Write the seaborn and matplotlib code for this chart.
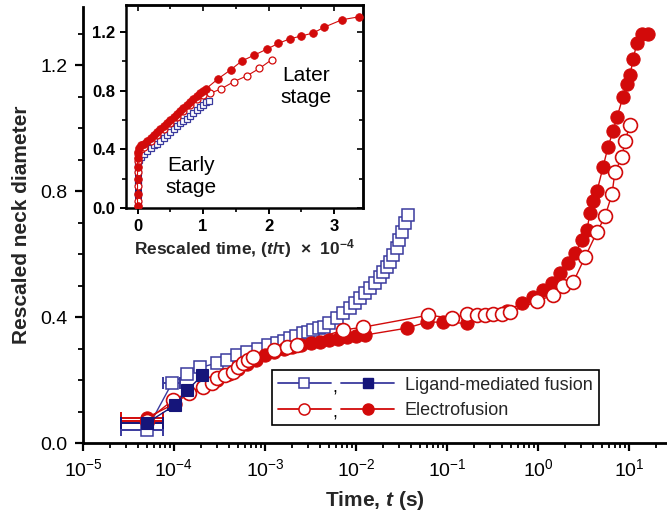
import numpy as np
import pandas as pd
import seaborn as sns
import matplotlib
matplotlib.use("Agg")
import matplotlib.pyplot as plt
from matplotlib.lines import Line2D
from matplotlib.text import Text
from matplotlib.legend_handler import HandlerTuple
from matplotlib.ticker import LogLocator, MultipleLocator, FixedLocator, NullFormatter

# ---------------- data: neck growth vs. time ----------------
# Ligand-mediated fusion, open squares (time in s, rescaled neck diameter)
lig_open_t = [5.0e-5, 9.5e-5, 1.4e-4, 1.95e-4, 2.95e-4, 3.8e-4, 4.9e-4, 6.3e-4,
              8.3e-4, 1.07e-3, 1.35e-3, 1.6e-3, 1.86e-3, 2.2e-3, 2.6e-3, 3.0e-3,
              3.4e-3, 3.9e-3, 4.4e-3, 5.1e-3, 6.2e-3, 7.2e-3, 8.5e-3, 9.8e-3,
              1.1e-2, 1.26e-2, 1.41e-2, 1.62e-2, 1.82e-2, 2.0e-2, 2.19e-2, 2.34e-2,
              2.57e-2, 2.82e-2, 3.0e-2, 3.24e-2, 3.47e-2, 3.72e-2]
lig_open_d = [0.041, 0.19, 0.22, 0.24, 0.254, 0.265, 0.28, 0.29,
              0.30, 0.31, 0.317, 0.325, 0.333, 0.34, 0.349, 0.354,
              0.359, 0.364, 0.368, 0.38, 0.397, 0.413, 0.43, 0.444,
              0.46, 0.476, 0.492, 0.508, 0.527, 0.543, 0.56, 0.575,
              0.597, 0.62, 0.644, 0.67, 0.698, 0.724]

# Ligand-mediated fusion, filled squares
lig_fill_t = [5.0e-5, 1.02e-4, 1.4e-4, 2.05e-4]
lig_fill_d = [0.063, 0.12, 0.168, 0.215]

# Electrofusion, open circles
ele_open_t = [5.0e-5, 9.8e-5, 1.45e-4, 2.1e-4, 2.6e-4, 3.0e-4, 3.6e-4, 4.4e-4,
              5.0e-4, 5.75e-4, 6.45e-4, 7.4e-4, 1.25e-3, 1.74e-3, 2.24e-3,
              7.2e-3, 1.2e-2, 6.2e-2, 0.114, 0.166, 0.214, 0.262, 0.32, 0.40,
              0.49, 0.975, 1.46, 1.88, 2.43, 3.28, 4.45, 5.45, 6.5, 7.0, 8.4,
              9.0, 10.3]
ele_open_d = [0.07, 0.137, 0.16, 0.178, 0.19, 0.205, 0.215, 0.225,
              0.24, 0.253, 0.263, 0.273, 0.295, 0.305, 0.311,
              0.359, 0.368, 0.406, 0.397, 0.41, 0.406, 0.406, 0.41, 0.41,
              0.416, 0.45, 0.47, 0.50, 0.51, 0.59, 0.67, 0.72, 0.79, 0.86, 0.91,
              0.96, 1.01]

# Electrofusion, filled circles
ele_fill_t = [5.0e-5, 1.02e-4, 1.45e-4, 3.0e-4, 4.0e-4, 5.0e-4, 6.3e-4, 8.0e-4,
              1.0e-3, 1.26e-3, 1.6e-3, 2.0e-3, 2.5e-3, 3.2e-3, 4.0e-3, 5.0e-3,
              6.3e-3, 8.0e-3, 1.0e-2, 1.26e-2, 3.63e-2, 6.0e-2, 9.0e-2, 0.166,
              0.456, 0.667, 0.88, 1.135, 1.43, 1.75, 2.14, 2.55, 3.05, 3.45,
              3.72, 4.02, 4.45, 5.18, 5.87, 6.67, 7.38, 8.6, 9.5, 10.3, 11.1,
              12.2, 13.9, 16.2]
ele_fill_d = [0.08, 0.125, 0.158, 0.20, 0.22, 0.235, 0.25, 0.265,
              0.28, 0.29, 0.30, 0.305, 0.31, 0.318, 0.322, 0.327,
              0.332, 0.336, 0.34, 0.343, 0.365, 0.384, 0.384, 0.38,
              0.42, 0.444, 0.463, 0.486, 0.508, 0.54, 0.571, 0.603, 0.644, 0.676,
              0.73, 0.77, 0.80, 0.876, 0.94, 0.99, 1.035, 1.10, 1.14, 1.17, 1.22,
              1.27, 1.30, 1.30]

# Horizontal time uncertainty on the earliest frames: (t, d, t_low, t_high)
lig_open_err = [(5.0e-5, 0.041, 2.6e-5, 7.6e-5), (9.5e-5, 0.19, 7.6e-5, 1.17e-4)]
lig_fill_err = [(5.0e-5, 0.063, 2.6e-5, 7.6e-5), (1.02e-4, 0.12, 8.5e-5, 1.2e-4)]
ele_open_err = [(5.0e-5, 0.07, 2.6e-5, 7.6e-5)]
ele_fill_err = [(5.0e-5, 0.08, 2.6e-5, 7.6e-5)]

# Inset: rescaled time (t/tau) x 1e-4
in_lig_open_x = [0.0, 0.0, 0.0, 0.0, 0.0, 0.02, 0.05, 0.10, 0.15, 0.20, 0.25, 0.30,
                 0.35, 0.40, 0.45, 0.50, 0.55, 0.60, 0.65, 0.70, 0.75, 0.80, 0.85,
                 0.90, 0.95, 1.00, 1.05, 1.09]
in_lig_open_d = [0.03, 0.10, 0.18, 0.25, 0.30, 0.33, 0.35, 0.37, 0.39, 0.41, 0.43, 0.44,
                 0.46, 0.48, 0.50, 0.52, 0.54, 0.56, 0.58, 0.59, 0.61, 0.63, 0.65,
                 0.67, 0.69, 0.70, 0.72, 0.73]
in_lig_fill_x = [0.0, 0.0, 0.0, 0.0, 0.0, 0.0, 0.0]
in_lig_fill_d = [0.0, 0.04, 0.08, 0.12, 0.16, 0.20, 0.24]

in_ele_open_x = [0.0, 0.0, 0.0, 0.0, 0.0, 0.05, 0.10, 0.20, 0.30, 0.40, 0.50, 0.60,
                 0.70, 0.80, 0.90, 1.00, 1.10, 1.27, 1.47, 1.67, 1.86, 2.05]
in_ele_open_d = [0.05, 0.15, 0.25, 0.32, 0.37, 0.40, 0.42, 0.46, 0.50, 0.54, 0.58, 0.62,
                 0.66, 0.70, 0.74, 0.77, 0.78, 0.81, 0.86, 0.90, 0.95, 1.01]
in_ele_fill_x = [0.0, 0.0, 0.0, 0.0, 0.0, 0.0, 0.02, 0.06, 0.10, 0.15, 0.20, 0.25,
                 0.30, 0.35, 0.40, 0.45, 0.50, 0.55, 0.60, 0.65, 0.70, 0.75, 0.80,
                 0.85, 0.90, 0.95, 1.00, 1.04, 1.23, 1.42, 1.59, 1.78, 1.97, 2.15,
                 2.32, 2.50, 2.68, 2.85, 3.12, 3.38]
in_ele_fill_d = [0.02, 0.10, 0.20, 0.28, 0.34, 0.38, 0.41, 0.43, 0.44, 0.46, 0.48, 0.50,
                 0.52, 0.54, 0.56, 0.58, 0.60, 0.62, 0.64, 0.66, 0.68, 0.70, 0.72,
                 0.74, 0.76, 0.78, 0.80, 0.81, 0.88, 0.94, 1.00, 1.04, 1.08, 1.12,
                 1.15, 1.17, 1.19, 1.23, 1.28, 1.30]

main_xticks = [1e-5, 1e-4, 1e-3, 1e-2, 1e-1, 1e0, 1e1]
main_xticklabels = [r"10$^{-5}$", r"10$^{-4}$", r"10$^{-3}$", r"10$^{-2}$",
                    r"10$^{-1}$", r"10$^{0}$", r"10$^{1}$"]
main_yticks = [0.0, 0.4, 0.8, 1.2]
inset_xticks = [0, 1, 2, 3]
inset_yticks = [0.0, 0.4, 0.8, 1.2]

# ---------------- style ----------------
sns.set_theme(style="ticks")
plt.rcParams["font.family"] = ["Liberation Sans", "DejaVu Sans"]
plt.rcParams.update({
    "mathtext.fontset": "custom",
    "mathtext.rm": "Liberation Sans",
    "mathtext.it": "Liberation Sans:italic",
    "mathtext.bf": "Liberation Sans:bold",
    "mathtext.bfit": "Liberation Sans:bold:italic",
    "mathtext.default": "regular",
    "axes.facecolor": "white",
    "figure.facecolor": "white",
})

NAVY = "#15157a"
NAVY_EDGE = "#3a3a9e"
RED = "#d20a0a"

fig = plt.figure(figsize=(6.67, 5.19), dpi=100)
ax = fig.add_axes([0.1244, 0.1464, 0.8741, 0.8401])


def series(axis, x, y, **kw):
    sns.lineplot(x=x, y=y, ax=axis, estimator=None, sort=False, legend=False, **kw)


def hbars(axis, rows, color, z):
    for t, d, lo, hi in rows:
        axis.errorbar([t], [d], xerr=[[t - lo], [hi - t]], fmt="none", ecolor=color,
                      elinewidth=1.4, capsize=4.5, capthick=1.4, zorder=z)


# main panel
hbars(ax, lig_open_err, NAVY_EDGE, 2)
hbars(ax, ele_open_err, RED, 2)
hbars(ax, ele_fill_err, RED, 2)
hbars(ax, lig_fill_err, NAVY, 2)

series(ax, lig_open_t, lig_open_d, color=NAVY_EDGE, linewidth=1.0, marker="s",
       markersize=8, markerfacecolor="white", markeredgecolor=NAVY_EDGE,
       markeredgewidth=1.1, zorder=3)
series(ax, ele_fill_t, ele_fill_d, color=RED, linewidth=1.0, marker="o",
       markersize=9.5, markerfacecolor=RED, markeredgecolor=RED,
       markeredgewidth=0.8, zorder=4)
series(ax, ele_open_t, ele_open_d, color=RED, linewidth=1.0, marker="o",
       markersize=10, markerfacecolor="white", markeredgecolor=RED,
       markeredgewidth=1.2, zorder=5)
series(ax, lig_fill_t, lig_fill_d, color=NAVY, linewidth=1.0, marker="s",
       markersize=8, markerfacecolor=NAVY, markeredgecolor=NAVY,
       markeredgewidth=0.8, zorder=6)

ax.set_xscale("log")
ax.set_xlim(1e-5, 25.5)
ax.set_ylim(0, 1.385)
ax.xaxis.set_major_locator(FixedLocator(main_xticks))
ax.set_xticklabels(main_xticklabels)
ax.xaxis.set_minor_locator(LogLocator(base=10, subs=np.arange(2, 10), numticks=20))
ax.xaxis.set_minor_formatter(NullFormatter())
ax.set_yticks(main_yticks)
ax.set_yticklabels([f"{v:.1f}" for v in main_yticks])
ax.yaxis.set_minor_locator(MultipleLocator(0.1))
ax.tick_params(which="major", direction="out", length=6, width=1.6, labelsize=14,
               colors="black", pad=5)
ax.tick_params(which="minor", direction="out", length=3.5, width=1.3, colors="black")
for side in ("top", "right"):
    ax.spines[side].set_visible(False)
for side in ("left", "bottom"):
    ax.spines[side].set_linewidth(2.0)
    ax.spines[side].set_color("black")
ax.set_xlabel(r"Time, $\mathbfit{t}$ (s)", fontsize=15, fontweight="bold", labelpad=6)
ax.set_ylabel("Rescaled neck diameter", fontsize=15, fontweight="bold", labelpad=7)
ax.grid(False)


# legend: open/filled pair per method, separated by a comma
class PairHandler(HandlerTuple):
    def create_artists(self, legend, orig_handle, xdescent, ydescent, width,
                       height, fontsize, trans):
        arts = super().create_artists(legend, orig_handle, xdescent, ydescent,
                                      width, height, fontsize, trans)
        comma = Text(x=width / 2 - xdescent - 1, y=-ydescent - 2, text=",",
                     ha="center", va="baseline", fontsize=fontsize, color="black")
        comma.set_transform(trans)
        arts.append(comma)
        return arts


h_lig = (Line2D([], [], color=NAVY_EDGE, lw=1.3, marker="s", ms=6.5,
                mfc="white", mec=NAVY_EDGE, mew=1.1),
         Line2D([], [], color=NAVY_EDGE, lw=1.3, marker="s", ms=6.5,
                mfc=NAVY, mec=NAVY))
h_ele = (Line2D([], [], color=RED, lw=1.3, marker="o", ms=8,
                mfc="white", mec=RED, mew=1.1),
         Line2D([], [], color=RED, lw=1.3, marker="o", ms=8,
                mfc=RED, mec=RED))
leg = ax.legend([h_lig, h_ele], ["Ligand-mediated fusion", "Electrofusion"],
                handler_map={tuple: PairHandler(ndivide=None, pad=0.6)},
                loc="lower left", bbox_to_anchor=(0.324, 0.041), borderaxespad=0,
                fontsize=13, handlelength=6.4, handletextpad=0.6, borderpad=0.35,
                labelspacing=0.45, frameon=True, fancybox=False, framealpha=1,
                edgecolor="black")
leg.get_frame().set_linewidth(1.2)
leg.set_zorder(10)

# ---------------- inset ----------------
axi = fig.add_axes([0.1882, 0.5983, 0.3561, 0.3921])
axi.set_facecolor("white")
series(axi, in_lig_open_x, in_lig_open_d, color=NAVY_EDGE, linewidth=0.8, marker="s",
       markersize=5, markerfacecolor="white", markeredgecolor=NAVY_EDGE,
       markeredgewidth=0.9, zorder=3)
series(axi, in_lig_fill_x, in_lig_fill_d, color=NAVY, linewidth=0.8, marker="s",
       markersize=5, markerfacecolor=NAVY, markeredgecolor=NAVY,
       markeredgewidth=0.6, zorder=4)
series(axi, in_ele_open_x, in_ele_open_d, color=RED, linewidth=0.8, marker="o",
       markersize=5, markerfacecolor="white", markeredgecolor=RED,
       markeredgewidth=0.9, zorder=4)
series(axi, in_ele_fill_x, in_ele_fill_d, color=RED, linewidth=0.8, marker="o",
       markersize=5.5, markerfacecolor=RED, markeredgecolor=RED,
       markeredgewidth=0.6, zorder=5)

axi.set_xlim(-0.183, 3.44)
axi.set_ylim(0, 1.38)
axi.set_xticks(inset_xticks)
axi.set_xticklabels([str(v) for v in inset_xticks], fontweight="bold")
axi.set_yticks(inset_yticks)
axi.set_yticklabels([f"{v:.1f}" for v in inset_yticks], fontweight="bold")
axi.xaxis.set_minor_locator(MultipleLocator(0.5))
axi.yaxis.set_minor_locator(MultipleLocator(0.2))
axi.tick_params(which="major", direction="out", length=4.5, width=1.4, labelsize=12,
                colors="black", pad=3)
axi.tick_params(which="minor", direction="out", length=3, width=1.2, colors="black")
for side in axi.spines.values():
    side.set_linewidth(1.8)
    side.set_color("black")

# inward ticks along the top and right frame of the inset
top = axi.secondary_xaxis("top")
top.set_xticks(inset_xticks)
top.xaxis.set_minor_locator(MultipleLocator(0.5))
top.tick_params(which="both", direction="in", labeltop=False, width=1.2, colors="black")
top.tick_params(which="major", length=4)
top.tick_params(which="minor", length=3)
top.spines["top"].set_linewidth(1.8)
right = axi.secondary_yaxis("right")
right.set_yticks(inset_yticks)
right.yaxis.set_minor_locator(MultipleLocator(0.2))
right.tick_params(which="both", direction="in", labelright=False, width=1.2, colors="black")
right.tick_params(which="major", length=4)
right.tick_params(which="minor", length=3)
right.spines["right"].set_linewidth(1.8)

axi.set_xlabel(r"Rescaled time, ($\mathbfit{t}$/τ)  ×  10$^{\mathbf{-4}}$",
               fontsize=12.5, fontweight="bold", labelpad=2)
axi.set_ylabel("")
axi.grid(False)

axi.text(0.81, 0.215, "Early\nstage", fontsize=15, ha="center", va="center",
         linespacing=1.2, color="black")
axi.text(2.57, 0.83, "Later\nstage", fontsize=15, ha="center", va="center",
         linespacing=1.2, color="black")

fig.savefig("out.png", dpi=100)
